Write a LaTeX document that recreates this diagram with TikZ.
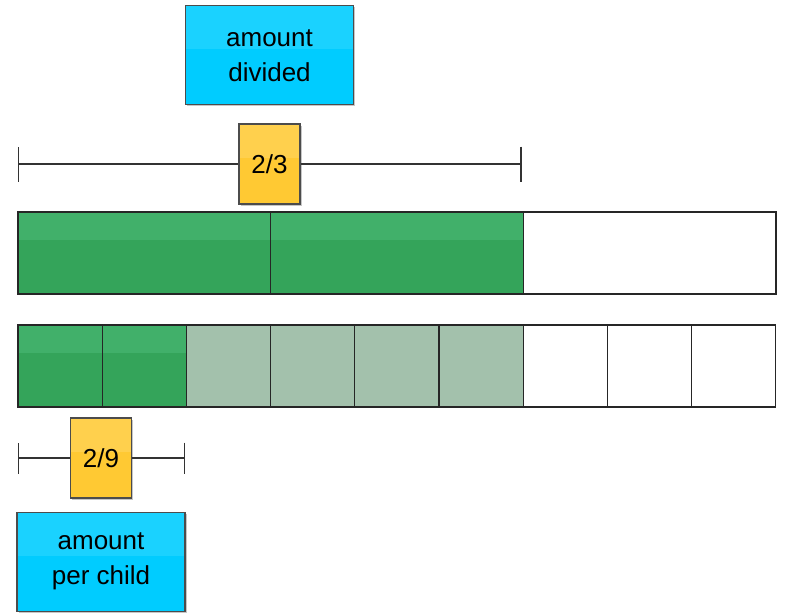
\documentclass[tikz,border=0pt]{standalone}
\usepackage{fontspec}
\setmainfont{Liberation Sans}
\usetikzlibrary{positioning,shadows,arrows.meta}
\definecolor{barGreen}{HTML}{34A45A}
\definecolor{barGreenTop}{HTML}{41B06A}
\definecolor{barGrey}{HTML}{A3C1AC}
\definecolor{boxCyan}{HTML}{00CCFF}
\definecolor{boxCyanTop}{HTML}{1AD2FF}
\definecolor{boxGold}{HTML}{FFC933}
\definecolor{boxGoldTop}{HTML}{FFD04D}

\tikzset{
  labelbox/.style={draw=black!70, line width=1.2pt, fill=#1, align=center, inner sep=0pt,
    font=\fontsize{26}{35}\selectfont,
    drop shadow={shadow xshift=1.5pt, shadow yshift=-1.5pt, opacity=.45}},
  namebox/.style={labelbox=boxCyan, minimum width=168pt, minimum height=99pt,
    path picture={\fill[boxCyanTop] (path picture bounding box.north west)
      rectangle ([yshift=6pt]path picture bounding box.east);}},
  fracbox/.style={labelbox=boxGold, minimum width=61pt, minimum height=80pt,
    path picture={\fill[boxGoldTop] (path picture bounding box.north west)
      rectangle ([yshift=6pt]path picture bounding box.east);}},
  cell/.style={draw=black!85, line width=1.3pt},
  bracket/.style={draw=black!80, line width=1.3pt}
}

\begin{document}
\begin{tikzpicture}[x=1pt,y=-1pt]
    \useasboundingbox (0,0) rectangle (788,613);
    %% bar of thirds
    \fill[barGreen] (18,212) rectangle (523.4,294);
    \fill[barGreenTop] (18,212) rectangle (523.4,240);
    \foreach \i in {0,1,2}
      \draw[cell] ({18+\i*252.7},212) rectangle ({18+(\i+1)*252.7},294);
    %% bar of ninths
    \fill[barGreen] (18,325) rectangle (186.4,407);
    \fill[barGreenTop] (18,325) rectangle (186.4,353);
    \fill[barGrey] (186.4,325) rectangle (523.2,407);
    \foreach \i in {0,...,8}
      \draw[cell] ({18+\i*84.2},325) rectangle ({18+(\i+1)*84.2},407);
    %% top bracket
    \coordinate (twothirdsL) at (18,164);
    \coordinate (twothirdsR) at (521.5,164);
    \node[fracbox] (twothirds) at (269.5,164) {2/3};
    \node[namebox, above=18pt of twothirds] (divided) {amount\\divided};
    \draw[bracket, {Bar[width=35pt]}-] (twothirdsL) -- (twothirds);
    \draw[bracket, -{Bar[width=35pt]}] (twothirds) -- (twothirdsR);
    %% bottom bracket
    \coordinate (twoninthsL) at (18,458);
    \coordinate (twoninthsR) at (185,458);
    \node[fracbox] (twoninths) at (101,458) {2/9};
    \node[namebox, below=13pt of twoninths] (perchild) {amount\\per child};
    \draw[bracket, {Bar[width=31pt]}-] (twoninthsL) -- (twoninths);
    \draw[bracket, -{Bar[width=31pt]}] (twoninths) -- (twoninthsR);
\end{tikzpicture}
\end{document}
